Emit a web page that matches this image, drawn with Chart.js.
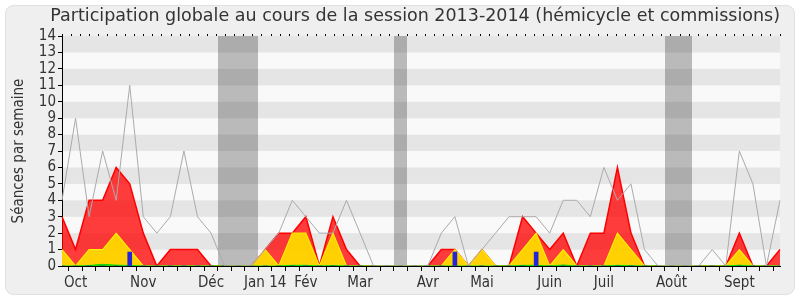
<!DOCTYPE html>
<html>
<head>
<meta charset="utf-8">
<script src="https://cdn.jsdelivr.net/npm/chart.js@4/dist/chart.umd.min.js"></script>
<style>
  html, body { margin: 0; padding: 0; background: #fff; }
  #wrap { width: 800px; height: 300px; }
</style>
</head>
<body>
<div id="wrap"><canvas id="chart" width="800" height="300"></canvas></div>
<script>
// Participation globale, session 2013-2014, one point per week

const weekLabels = ['', 'Oct', '', '', '', '', 'Nov', '', '', '', '', 'Déc', '', '', '', 'Jan 14', '', '', 'Fév', '', '', '', 'Mar', '', '', '', '', 'Avr', '', '', '', 'Mai', '', '', '', '', 'Juin', '', '', '', 'Juil', '', '', '', '', 'Août', '', '', '', '', 'Sept', '', '', ''];

// red area: séances (hémicycle + commissions)
const presences = [3, 1, 4, 4, 6, 5, 2, 0, 1, 1, 1, 0, 0, 0, 0, 1, 2, 2, 3, 0, 3, 1, 0, 0, 0, 0, 0, 0, 1, 1, 0, 1, 0, 0, 3, 2, 1, 2, 0, 2, 2, 6, 2, 0, 0, 0, 0, 0, 0, 0, 2, 0, 0, 1];
// yellow area
const commissions = [1, 0, 1, 1, 2, 1, 0, 0, 0, 0, 0, 0, 0, 0, 0, 1, 0, 2, 2, 0, 2, 0, 0, 0, 0, 0, 0, 0, 0, 1, 0, 1, 0, 0, 1, 2, 0, 1, 0, 0, 0, 2, 1, 0, 0, 0, 0, 0, 0, 0, 1, 0, 0, 0];
// green line at the bottom
const interventions = [0, 0, 0.03, 0.1, 0.05, 0.03, 0, 0, 0, 0, 0, 0, 0, 0, 0, 0, 0, 0.04, 0.04, 0, 0.03, 0, 0, 0, 0, 0, 0, 0, 0, 0, 0, 0, 0, 0, 0.04, 0.04, 0, 0.06, 0, 0, 0, 0.04, 0.02, 0, 0, 0, 0, 0, 0, 0, 0.05, 0, 0, 0];
// blue bars
const questions = [0, 0, 0, 0, 0, 0.85, 0, 0, 0, 0, 0, 0, 0, 0, 0, 0, 0, 0, 0, 0, 0, 0, 0, 0, 0, 0, 0, 0, 0, 0.85, 0, 0, 0, 0, 0, 0.85, 0, 0, 0, 0, 0, 0, 0, 0, 0, 0, 0, 0, 0, 0, 0, 0, 0, 0];
// grey line
const mediane = [4, 9, 3, 7, 4, 11, 3, 2, 3, 7, 3, 2, 0, 0, 0, 1, 2, 4, 3, 2, 2, 4, 2, 0, 0, 0, 0, 0, 2, 3, 0, 1, 2, 3, 3, 3, 2, 4, 4, 3, 6, 4, 5, 1, 0, 0, 0, 0, 1, 0, 7, 5, 0, 4];
// vacation weeks (grey shading)
const vacances = [12, 13, 14, 25, 45, 46];

const yMax = 14;

const FONT = "'DejaVu Sans Condensed', 'DejaVu Sans'";

const bgPlugin = {
    id: 'bg',
    beforeDraw(chart){
        const c = chart.ctx;
        c.save();
        c.fillStyle = '#fff';
        c.fillRect(0, 0, chart.width, chart.height);
        // rounded panel
        const x = 5.5, y = 5.5, w = chart.width - 11, h = chart.height - 11, r = 8;
        c.beginPath();
        c.moveTo(x + r, y);
        c.arcTo(x + w, y, x + w, y + h, r);
        c.arcTo(x + w, y + h, x, y + h, r);
        c.arcTo(x, y + h, x, y, r);
        c.arcTo(x, y, x + w, y, r);
        c.closePath();
        c.fillStyle = '#efefef';
        c.fill();
        c.strokeStyle = '#e0e0e0';
        c.stroke();
        // horizontal bands
        const a = chart.chartArea, ys = chart.scales.y, xs = chart.scales.x;
        for(let k = 0; k < yMax; k++){
            const top = ys.getPixelForValue(k + 1), bot = ys.getPixelForValue(k);
            c.fillStyle = (k % 2) ? '#e5e5e5' : '#f9f9f9';
            c.fillRect(a.left, top, a.right - a.left, bot - top);
        }
        // vacation shading, one rect per run of weeks
        c.fillStyle = 'rgba(40,40,40,0.3)';
        let i = 0;
        while(i < vacances.length){
            let j = i;
            while(j + 1 < vacances.length && vacances[j + 1] === vacances[j] + 1) j++;
            const x0 = Math.round(xs.getPixelForValue(vacances[i] - 0.5));
            const x1 = Math.round(xs.getPixelForValue(vacances[j] + 0.5));
            c.fillRect(x0, a.top, x1 - x0, a.bottom - a.top);
            i = j + 1;
        }
        c.restore();
    }
};

new Chart(document.getElementById('chart'), {
    data: {
        labels: weekLabels,
        datasets: [
            { type: 'line', data: presences, borderColor: '#ff0000', borderWidth: 1.5, backgroundColor: 'rgba(255,0,0,0.76)', fill: 'origin', pointRadius: 0, tension: 0, order: 6 },
            { type: 'line', data: commissions, borderColor: '#ffee00', borderWidth: 1.2, backgroundColor: 'rgba(255,214,0,0.97)', fill: 'origin', pointRadius: 0, tension: 0, order: 5 },
            { type: 'line', data: interventions, borderColor: '#00dd00', borderWidth: 1, backgroundColor: 'rgba(0,200,0,0.8)', fill: 'origin', pointRadius: 0, tension: 0, order: 4 },
            { type: 'bar', data: questions, backgroundColor: '#2424d8', barThickness: 4, grouped: false, order: 3 },
            { type: 'line', data: mediane, borderColor: '#aaaaaa', borderWidth: 1, fill: false, pointRadius: 0, tension: 0, order: 2 }
        ]
    },
    options: {
        responsive: false,
        animation: false,
        layout: { padding: { left: 10, right: 20, top: 0, bottom: 0 } },
        plugins: {
            legend: { display: false },
            tooltip: { enabled: false },
            title: {
                display: true,
                align: 'end',
                text: 'Participation globale au cours de la session 2013-2014 (hémicycle et commissions)',
                color: '#333',
                font: { family: "'DejaVu Sans'", size: 17.5, weight: 'normal' },
                padding: { top: 6, bottom: 9 }
            }
        },
        scales: {
            x: {
                type: 'category',
                offset: false,
                grid: { drawOnChartArea: false, color: '#000', tickLength: 5 },
                border: { color: '#000' },
                ticks: { autoSkip: false, maxRotation: 0, color: '#333', padding: 3, font: { family: FONT, size: 15 } },
                afterFit(s){ s.height = 34; }
            },
            xTop: {
                type: 'linear',
                position: 'top',
                min: 0, max: 79,
                grid: { drawOnChartArea: false, color: '#000', tickLength: 2 },
                border: { display: false },
                ticks: { display: false, stepSize: 1, maxTicksLimit: 100 },
                afterFit(s){ s.height = 0; }
            },
            y: {
                min: 0, max: yMax,
                grid: { drawOnChartArea: false, color: '#000', tickLength: 4 },
                border: { color: '#000' },
                ticks: { stepSize: 1, autoSkip: false, color: '#333', padding: 2, font: { family: FONT, size: 15 } },
                title: { display: true, text: 'Séances par semaine', color: '#333', font: { family: FONT, size: 15 }, padding: { top: 0, bottom: 2 } },
                afterFit(s){ s.width = 52; }
            }
        }
    },
    plugins: [bgPlugin]
});
</script>
</body>
</html>
